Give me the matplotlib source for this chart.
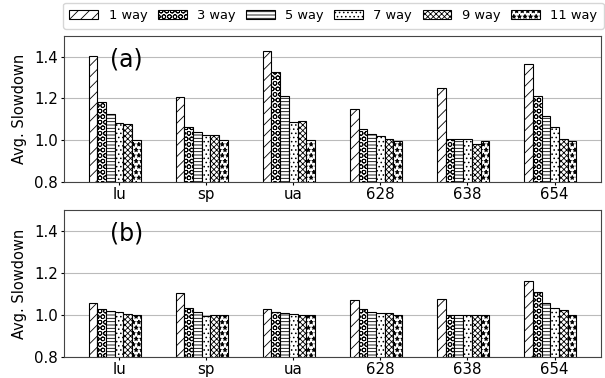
import numpy as np
import matplotlib
matplotlib.use("Agg")
import matplotlib.pyplot as plt

benchmarks = ["lu", "sp", "ua", "628", "638", "654"]
ways = ["1 way", "3 way", "5 way", "7 way", "9 way", "11 way"]
hatches = ["///", "OOO", "-----", "....", "xxxxxx", "***"]

# rows = ways, cols = benchmarks
slowdown_a = [
    [1.405, 1.206, 1.427, 1.147, 1.251, 1.366],
    [1.184, 1.064, 1.325, 1.053, 1.005, 1.213],
    [1.126, 1.040, 1.210, 1.030, 1.005, 1.118],
    [1.080, 1.024, 1.088, 1.020, 1.005, 1.061],
    [1.077, 1.024, 1.090, 1.006, 0.982, 1.006],
    [1.000, 1.000, 1.000, 0.998, 0.997, 0.998],
]
slowdown_b = [
    [1.056, 1.106, 1.027, 1.072, 1.075, 1.163],
    [1.029, 1.032, 1.016, 1.027, 0.998, 1.110],
    [1.019, 1.013, 1.010, 1.013, 0.998, 1.056],
    [1.013, 0.995, 1.005, 1.010, 0.998, 1.035],
    [1.006, 0.998, 1.000, 1.011, 0.998, 1.024],
    [1.000, 0.998, 1.000, 1.000, 0.998, 1.000],
]

plt.rcParams["hatch.linewidth"] = 0.6

fig = plt.figure(figsize=(6.05, 3.78), dpi=100)
ax_a = fig.add_axes([0.106, 0.519, 0.887, 0.386])
ax_b = fig.add_axes([0.106, 0.056, 0.887, 0.388])

x = np.arange(len(benchmarks))
width = 0.1

def draw(ax, data, tag):
    for i, (w, h) in enumerate(zip(ways, hatches)):
        vals = np.array(data[i])
        ax.bar(x + (i - 3) * width, vals - 0.8, width, bottom=0.8,
               color="white", edgecolor="black", linewidth=0.8,
               hatch=h, label=w, zorder=3)
    ax.set_ylim(0.8, 1.5)
    ax.set_yticks([0.8, 1.0, 1.2, 1.4])
    ax.set_xticks(x)
    ax.set_xticklabels(benchmarks)
    ax.tick_params(labelsize=10.8, length=2.5, pad=2)
    ax.tick_params(axis="x", pad=1.2)
    ax.yaxis.grid(True, color="#bbbbbb", linewidth=0.8, zorder=0)
    ax.set_ylabel("Avg. Slowdown", fontsize=10.5)
    ax.yaxis.set_label_coords(-0.069, 0.5)
    for s in ax.spines.values():
        s.set_color("#444444")
    ax.text(0.086, 0.84, tag, transform=ax.transAxes, fontsize=17,
            ha="left", va="center")

draw(ax_a, slowdown_a, "(a)")
draw(ax_b, slowdown_b, "(b)")

handles, labels = ax_a.get_legend_handles_labels()
fig.legend(handles, labels, loc="upper center", ncol=6, fontsize=9.4,
           bbox_to_anchor=(0.551, 0.993), frameon=True, handlelength=2.2,
           handleheight=0.6, columnspacing=0.8, handletextpad=0.8,
           borderaxespad=0.0, borderpad=0.5)

fig.savefig("out.png", dpi=100)
